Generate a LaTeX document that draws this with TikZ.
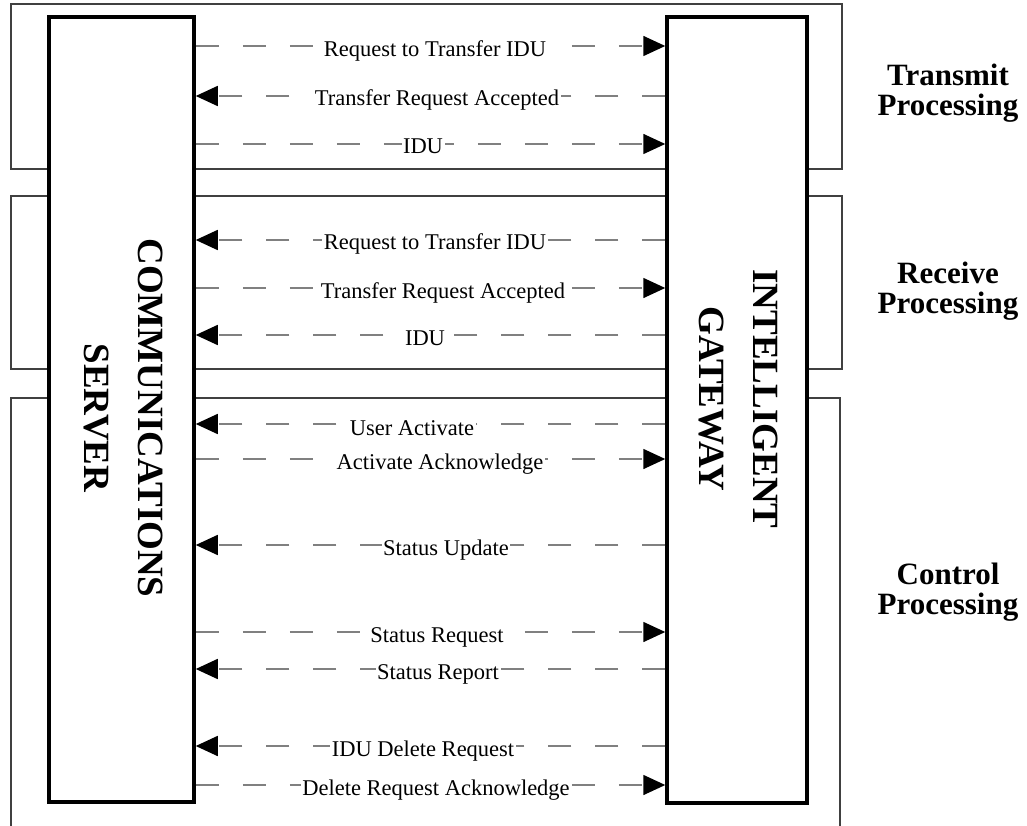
\documentclass[tikz,border=0pt]{standalone}
\usepackage{fontspec}
\setmainfont{Liberation Serif}
\usetikzlibrary{arrows.meta}
\newcommand{\lblfont}{\fontsize{22.5}{26}\selectfont}
\newcommand{\ttlfont}{\bfseries\fontsize{31}{30}\selectfont}
\newcommand{\vfont}{\bfseries\fontsize{37}{54}\selectfont}
\tikzset{
  x=1pt, y=1pt,
  region/.style={draw=black!75, line width=1.1pt},
  entity/.style={draw=black, line width=3.5pt, fill=white, inner sep=0pt},
  vtext/.style={rotate=-90, align=center, font=\vfont, inner sep=0pt},
  msg/.style={draw=black!50, line width=1.6pt, dash pattern=on 23pt off 24pt,
    -{Triangle[length=22pt,width=20pt,color=black]}},
  lbl/.style={anchor=base, fill=white, font=\lblfont, inner xsep=1.5pt, inner ysep=0pt, text=black},
  ttl/.style={align=center, font=\ttlfont, inner sep=0pt}
}
\begin{document}
\begin{tikzpicture}
\useasboundingbox (0,0) rectangle (1027,-826);
% regions
\draw[region] (11,-4) rectangle (842,-169);
\draw[region] (11,-196) rectangle (842,-369);
\draw[region] (11,-840) -- (11,-398) -- (840,-398) -- (840,-840);
% entities
\node[entity, minimum width=145pt, minimum height=785pt] (cs) at (121.5,-409.5) {};
\node[entity, minimum width=140pt, minimum height=786pt] (ig) at (737,-410) {};
\node[vtext] (cst) at (123.5,-418) {COMMUNICATIONS\\SERVER};
\node[vtext] (igt) at (738,-399) {INTELLIGENT\\GATEWAY};
% titles
\node[ttl] (t1) at (948,-93) {Transmit\\Processing};
\node[ttl] (t2) at (948,-291) {Receive\\Processing};
\node[ttl] (t3) at (948,-592) {Control\\Processing};
% rows
\foreach \n/\yy in {1/46,2/96,3/144,4/240,5/288,6/335,7/424,8/459,9/545,10/632,11/669,12/746,13/785}
  \coordinate (r\n) at (0,-\yy);
% messages
\draw[msg] (cs.east|-r1) -- (ig.west|-r1);
\node[lbl] (l1) at (435,-57) {Request to Transfer IDU};
\draw[msg] (ig.west|-r2) -- (cs.east|-r2);
\node[lbl] (l2) at (437,-106) {Transfer Request Accepted};
\draw[msg] (cs.east|-r3) -- (ig.west|-r3);
\node[lbl] (l3) at (423,-154) {IDU};
\draw[msg] (ig.west|-r4) -- (cs.east|-r4);
\node[lbl] (l4) at (435,-250) {Request to Transfer IDU};
\draw[msg] (cs.east|-r5) -- (ig.west|-r5);
\node[lbl] (l5) at (443,-298) {Transfer Request Accepted};
\draw[msg] (ig.west|-r6) -- (cs.east|-r6);
\node[lbl] (l6) at (425,-345) {IDU};
\draw[msg] (ig.west|-r7) -- (cs.east|-r7);
\node[lbl] (l7) at (412,-435) {User Activate};
\draw[msg] (cs.east|-r8) -- (ig.west|-r8);
\node[lbl] (l8) at (440,-469) {Activate Acknowledge};
\draw[msg] (ig.west|-r9) -- (cs.east|-r9);
\node[lbl] (l9) at (446,-555) {Status Update};
\draw[msg] (cs.east|-r10) -- (ig.west|-r10);
\node[lbl] (l10) at (437,-642) {Status Request};
\draw[msg] (ig.west|-r11) -- (cs.east|-r11);
\node[lbl] (l11) at (438,-679) {Status Report};
\draw[msg] (ig.west|-r12) -- (cs.east|-r12);
\node[lbl] (l12) at (423,-756) {IDU Delete Request};
\draw[msg] (cs.east|-r13) -- (ig.west|-r13);
\node[lbl] (l13) at (436,-795) {Delete Request Acknowledge};
\end{tikzpicture}
\end{document}
